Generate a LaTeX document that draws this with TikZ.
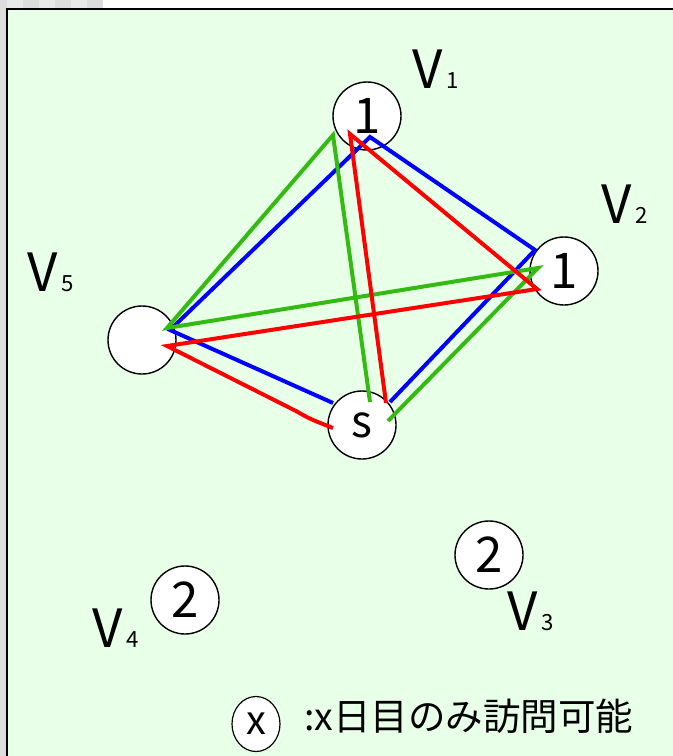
\documentclass[tikz,border=0pt]{standalone}
\usepackage{fontspec}
\setmainfont{Noto Sans CJK JP}
\usepackage{xcolor}
\usepackage{tikz}
\usetikzlibrary{calc, shapes.geometric}

\definecolor{panelgreen}{RGB}{232,255,232}
\definecolor{checkdark}{RGB}{221,221,221}
\definecolor{checklight}{RGB}{233,233,233}
\definecolor{routegreen}{RGB}{51,187,17}

\newcommand{\vlabel}[1]{V\hspace{3pt}{\fontsize{19}{19}\selectfont #1}}

\begin{document}
\begin{tikzpicture}[
    x=0.03cm, y=-0.03cm,
    vertex/.style={draw, circle, fill=white, line width=1.2pt, minimum size=2.04cm, inner sep=0pt, font=\fontsize{42}{42}\selectfont},
    vname/.style={anchor=base west, inner sep=0pt, font=\fontsize{45}{45}\selectfont},
    route/.style={line width=3.4pt, line join=miter}
]
    % Background and panel
    \clip (0,0) rectangle (673,756);
    \fill[white] (0,0) rectangle (673,756);
    \fill[checkdark] (0,0) rectangle (7,756);
    \foreach \x in {7,39,71} {
        \fill[checklight] (\x,0) rectangle (\x+16,9);
        \fill[checkdark] (\x+16,0) rectangle (\x+32,9);
    }
    \draw[line width=2.5pt, fill=panelgreen] (7,9) rectangle (700,780);

    % Vertices
    \node[vertex] (v1) at (367,116) {1};
    \node[vertex] (v2) at (564,271) {1};
    \node[vertex] (v3) at (489,555) {2};
    \node[vertex] (v4) at (185,600) {2};
    \node[vertex] (v5) at (142,340) {};
    \node[vertex, font=\fontsize{38}{38}\selectfont] (s) at (362,425) {s};

    \node[vname] (n1) at (412,88) {\vlabel{1}};
    \node[vname] (n2) at (601,223) {\vlabel{2}};
    \node[vname] (n3) at (507,630) {\vlabel{3}};
    \node[vname] (n4) at (92,647) {\vlabel{4}};
    \node[vname] (n5) at (27,291) {\vlabel{5}};

    % Route ends
    \coordinate (b0) at ($(s)+(-29,-22)$);
    \coordinate (b5) at ($(v5)+(28,-10)$);
    \coordinate (b1) at ($(v1)+(3,21)$);
    \coordinate (b2) at ($(v2)+(-29,-21)$);
    \coordinate (b9) at ($(s)+(28,-23)$);

    \coordinate (g0) at ($(s)+(8,-23)$);
    \coordinate (g1) at ($(v1)+(-34,19)$);
    \coordinate (g5) at ($(v5)+(25,-12)$);
    \coordinate (g2) at ($(v2)+(-26,-3)$);
    \coordinate (g9) at ($(s)+(26,-4)$);

    \coordinate (r0) at ($(s)+(24,-22)$);
    \coordinate (r1) at ($(v1)+(-17,18)$);
    \coordinate (r2) at ($(v2)+(-27,18)$);
    \coordinate (r5) at ($(v5)+(25,6)$);
    \coordinate (rk) at ($(s)+(-66,-14)$);
    \coordinate (r9) at ($(s)+(-29,3)$);

    % Routes
    \draw[route, blue] (b0) -- (b5) -- (b1) -- (b2) -- (b9);
    \draw[route, routegreen] (g0) -- (g1) -- (g5) -- (g2) -- (g9);
    \draw[route, red] (r0) -- (r1) -- (r2) -- (r5) -- (rk) .. controls ($(s)+(-52,-6)$) .. (r9);

    % Key
    \node[draw, ellipse, fill=white, line width=1pt, minimum width=1.44cm, minimum height=1.65cm, inner sep=0pt, font=\fontsize{34}{34}\selectfont] (key) at (256,724) {x};
    \node[anchor=west, inner sep=0pt, font=\fontsize{32}{32}\selectfont] (keytext) at (304,716) {:x日目のみ訪問可能};
\end{tikzpicture}
\end{document}
